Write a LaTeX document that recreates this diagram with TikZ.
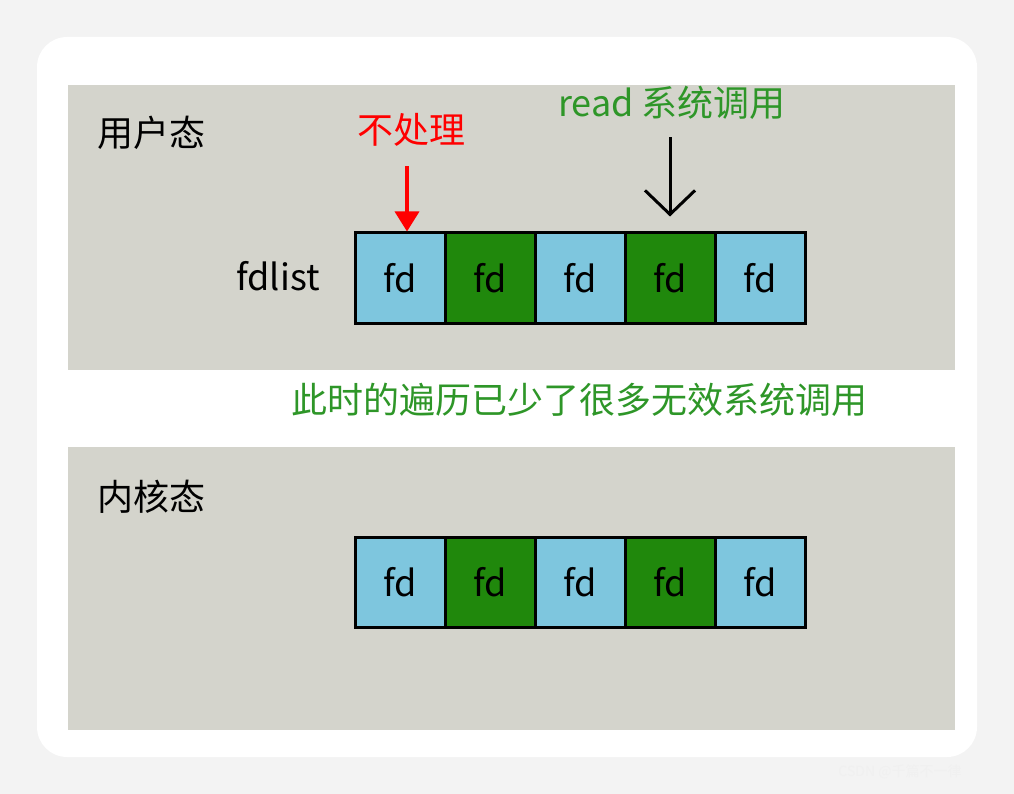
\documentclass[tikz,border=0pt]{standalone}
\usepackage{fontspec}
\setmainfont{Noto Sans CJK SC}
\usetikzlibrary{arrows.meta}
\definecolor{pagebg}{RGB}{243,243,243}
\definecolor{panelgray}{RGB}{212,212,204}
\definecolor{fdblue}{RGB}{126,198,222}
\definecolor{fdgreen}{RGB}{32,136,12}
\definecolor{notegreen}{RGB}{46,150,40}
\tikzset{
	cell/.style={draw=black, line width=3pt, minimum size=90pt, inner sep=0pt},
	redarrow/.style={draw=red, line width=3.5pt, -{Triangle[length=20pt, width=24pt]}},
	callarrow/.style={draw=black, line width=3pt, -{Straight Barb[length=24pt, width=50pt]}}
}
\begin{document}
\begin{tikzpicture}[x=1pt, y=-1pt, every node/.style={font=\fontsize{36}{42}\selectfont}]
	\fill[pagebg] (0,0) rectangle (1014,794);
	\useasboundingbox (0,0) rectangle (1014,794);
	\fill[white, rounded corners=30pt] (37,37) rectangle (977,757);
	\fill[panelgray] (68,85) rectangle (955,370);
	\fill[panelgray] (68,447) rectangle (955,730);
	\node (user) at (151,133) {用户态};
	\node (kernel) at (151,497) {内核态};
	\node (fdlist) at (278,276) {fdlist};
	\foreach \i/\c in {1/fdblue, 2/fdgreen, 3/fdblue, 4/fdgreen, 5/fdblue} {
		\node[cell, fill=\c] (u\i) at (310+90*\i,278) {fd};
		\node[cell, fill=\c] (k\i) at (310+90*\i,582) {fd};
	}
	\node[text=red] (skip) at (411,130) {不处理};
	\node[text=notegreen] (read) at (672,103) {read 系统调用};
	\node[text=notegreen] (note) at (579,400) {此时的遍历已少了很多无效系统调用};
	\node[text=gray!12, font=\fontsize{14}{16}\selectfont] (mark) at (900,772) {CSDN @千篇不一律};
	\coordinate (skipend) at ([xshift=7pt]u1.north);
	\draw[redarrow] (skip.south -| skipend) ++(0,16) -- (skipend);
	\draw[callarrow] ([yshift=-14pt]read.south -| u4.north) -- ([yshift=15pt]u4.north);
\end{tikzpicture}
\end{document}
